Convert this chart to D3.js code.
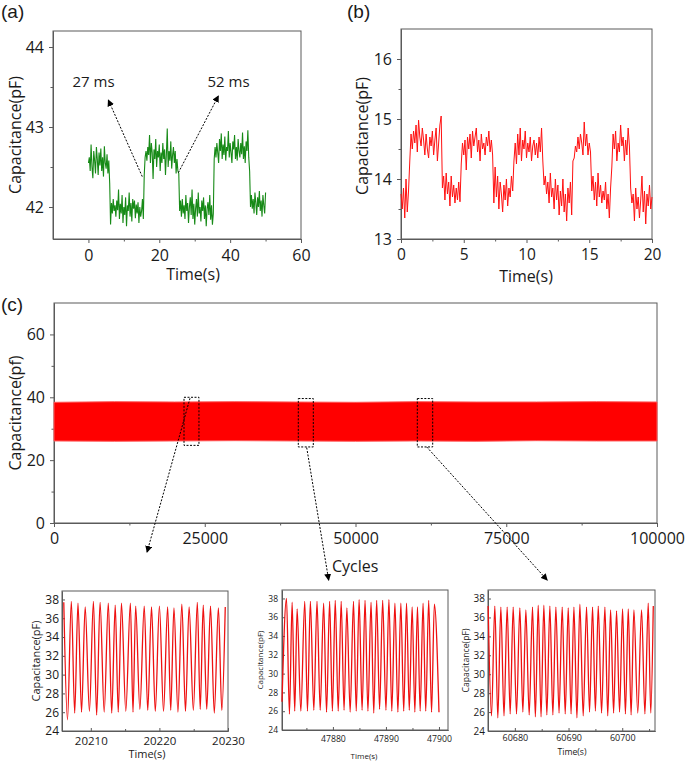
<!DOCTYPE html>
<html><head><meta charset="utf-8">
<script src="https://cdn.jsdelivr.net/npm/d3@7"></script>
<style>
body{margin:0;background:#fff;}
svg{display:block;font-family:"Open Sans",sans-serif;}
</style></head><body>
<svg id="fig" width="685" height="764"></svg>
<script>
// ---------- DATA ----------
// (a) capacitance vs time, sampled every 0.25 s from 0 to 50 s
const aStart = 0, aStep = 0.25;
const aValues = [
 42.55,42.62,42.45,42.78,42.5,42.36,42.7,42.58,42.42,42.75,42.6,42.4,42.68,42.52,42.73,42.45,42.62,42.38,42.76,42.55,42.48,42.66,42.42,42.58,42.3,
 41.78,42.05,41.92,42.1,41.95,42.02,41.88,42.08,41.96,42.22,41.85,42.04,41.92,42.15,41.8,42.0,41.9,42.12,41.76,42.02,41.95,42.18,41.88,42.05,41.82,42.1,41.98,42.08,41.86,42.03,41.92,42.06,41.8,42.0,41.88,41.95,42.1,41.85,
 42.4,42.62,42.7,42.58,42.75,42.65,42.9,42.55,42.8,42.68,42.35,42.72,42.6,42.85,42.5,42.7,42.62,42.78,42.45,42.68,42.55,42.8,42.6,42.72,42.4,42.66,42.98,42.5,42.7,42.58,42.82,42.48,42.65,42.75,42.55,42.7,42.42,42.6,42.45,
 42.42,41.95,42.08,41.88,42.1,41.92,42.02,41.85,42.15,41.95,42.05,41.8,42.0,42.12,41.9,42.22,41.85,42.04,41.78,41.98,42.1,41.88,42.18,41.92,42.0,41.82,42.08,41.95,42.12,41.85,42.02,41.76,41.98,42.06,41.9,42.15,41.84,42.02,41.78,41.92,
 42.6,42.75,42.62,42.8,42.68,42.55,42.85,42.7,42.92,42.6,42.78,42.65,42.88,42.58,42.75,42.7,42.95,42.62,42.8,42.68,42.55,42.82,42.72,42.9,42.6,42.75,42.58,42.85,42.7,42.62,42.8,42.66,42.93,42.6,42.76,42.55,42.82,42.7,42.96,42.62,42.45,
 42.0,42.15,41.98,42.1,41.92,42.18,42.05,41.9,42.12,42.0,42.2,41.95,42.08,41.88,42.15,42.02,41.92,42.18
];
const aXTicks = [0, 20, 40, 60], aXMinor = [10, 30, 50];
const aYTicks = [42, 43, 44], aYMinor = [42.5, 43.5];
const aNotes = ["27 ms", "52 ms"];
const aNoteX = [-4.5, 33.6], aNoteY = [43.5, 43.5];
const aArrowFromX = [15.2, 25.4], aArrowFromY = [42.38, 42.43];
const aArrowToX = [5.6, 36.7], aArrowToY = [43.34, 43.39];

// (b) capacitance vs time, sampled every 0.1 s from 0 to 20 s
const bStart = 0, bStep = 0.1;
const bValues = [
 13.75,13.5,13.85,13.35,14.0,13.45,13.8,
 14.3,14.75,14.5,14.8,14.6,14.9,14.45,14.98,14.7,14.55,14.85,14.65,14.4,14.75,14.5,14.35,14.7,14.55,14.8,14.4,14.65,14.85,14.3,14.6,14.9,15.05,
 13.85,14.05,13.65,14.1,13.75,13.95,13.55,14.05,13.7,13.9,13.6,13.85,13.65,13.95,13.62,
 14.25,14.6,14.4,14.65,14.15,14.7,14.5,14.75,14.35,14.8,14.55,14.7,14.85,14.45,14.65,14.3,14.75,14.5,14.6,14.4,14.7,14.55,14.8,14.45,14.65,14.4,
 13.6,14.2,13.7,14.05,13.5,13.95,13.75,13.45,13.9,13.65,14.0,13.55,13.85,13.7,14.05,13.8,
 14.3,14.6,14.25,14.75,14.4,14.85,14.3,14.65,14.5,14.8,14.35,14.6,14.45,14.7,14.3,14.55,14.65,14.4,14.6,14.35,14.7,14.45,14.85,14.3,
 13.9,14.05,13.75,13.95,13.6,14.1,13.7,13.85,13.5,14.0,13.65,13.9,13.4,13.8,13.55,14.0,13.45,13.75,13.3,13.85,13.6,13.95,13.4,
 14.3,14.35,14.55,14.45,14.7,14.5,14.75,14.6,14.4,14.95,14.55,14.75,14.4,14.6,14.45,
 13.8,14.05,13.65,13.95,13.55,14.1,13.7,13.9,13.6,13.8,13.65,13.95,13.5,13.75,13.35,13.85,
 14.2,14.75,14.5,14.8,14.3,14.6,14.45,14.9,14.55,14.7,14.3,14.65,14.4,14.85,14.55,
 13.85,13.6,13.75,13.3,13.85,13.5,13.7,13.35,13.65,14.05,13.45,13.8,13.25,13.75,13.55,13.9,13.5,13.7
];
const bXTicks = [0, 5, 10, 15, 20], bXMinor = [2.5, 7.5, 12.5, 17.5];
const bYTicks = [13, 14, 15, 16], bYMinor = [13.5, 14.5, 15.5];

// (c) envelope of the oscillation over 100000 cycles
const bandCycles = [0, 10000, 20000, 30000, 40000, 50000, 60000, 70000, 80000, 90000, 100000];
const bandUpper = [38.4, 38.6, 38.5, 38.6, 38.5, 38.4, 38.6, 38.5, 38.5, 38.6, 38.5];
const bandLower = [26.1, 26.0, 26.1, 26.2, 26.1, 26.0, 26.1, 26.0, 26.2, 26.1, 26.1];
const cXTicks = [0, 25000, 50000, 75000, 100000], cXMinor = [12500, 37500, 62500, 87500];
const cYTicks = [0, 20, 40, 60], cYMinor = [10, 30, 50];
const boxStart = [21560, 40514, 60249], boxEnd = [24040, 43002, 62803];
const boxLow = [24.7, 24.2, 24.2], boxHigh = [40.0, 39.6, 39.6];
const cArrowFromX = [22554, 41907, 61808], cArrowFromY = [39.7, 24.0, 24.2];
const cArrowToX = [15423, 45556, 81808], cArrowToY = [-9.3, -18.2, -18.2];

// insets: zoomed oscillations (alternating peaks and troughs)
const in1Times = [20206.06,20206.6,20207.16,20207.65,20208.13,20208.65,20209.18,20209.8,20210.38,20210.85,20211.35,20211.95,20212.55,20213.05,20213.56,20214.0,20214.47,20215.1,20215.77,20216.15,20216.54,20217.15,20217.79,20218.3,20218.85,20219.4,20220.0,20220.6,20221.2,20221.65,20222.12,20222.7,20223.27,20223.8,20224.33,20224.95,20225.53,20225.95,20226.39,20226.9,20227.45,20228.0,20228.6,20229.1,20229.6];
const in1Values = [37.7,25.2,37.8,25.9,37.6,26.0,37.2,26.1,37.8,25.7,37.7,26.0,37.6,25.9,37.4,26.0,37.6,26.1,37.6,26.0,37.3,26.3,37.3,26.2,37.2,26.1,37.3,26.1,37.2,26.2,37.1,26.0,37.5,26.1,37.2,26.2,37.7,26.3,37.4,26.3,37.3,25.9,37.1,26.2,37.2];
const in2Times = [47870.4,47871.25,47871.8,47872.31,47872.8,47873.25,47873.95,47874.69,47875.2,47875.75,47876.4,47877.0,47877.6,47878.25,47878.8,47879.38,47879.9,47880.44,47881.0,47881.56,47882.1,47882.63,47883.25,47883.88,47884.4,47884.94,47885.5,47886.06,47886.6,47887.19,47887.7,47888.25,47888.8,47889.38,47890.0,47890.56,47891.1,47891.69,47892.25,47892.81,47893.35,47893.88,47894.4,47894.94,47895.45,47895.94,47896.45,47897.0,47897.5,47898.06,47898.6,47899.13,47900.0];
const in2Values = [27.0,38.0,25.7,37.6,26.0,36.9,26.0,37.7,26.0,37.7,26.1,37.7,26.1,37.5,25.9,37.7,26.0,37.8,26.0,37.7,26.1,37.0,25.9,37.7,26.0,37.9,26.1,37.8,26.0,37.6,25.8,37.8,26.2,37.8,26.1,37.9,26.0,37.5,25.9,37.5,26.0,37.5,26.1,37.1,25.9,37.1,26.0,37.5,26.0,37.8,25.9,37.4,25.9];
const in3Times = [60675.03,60675.65,60676.27,60676.83,60677.39,60677.98,60678.57,60679.13,60679.69,60680.31,60680.93,60681.49,60682.05,60682.67,60683.29,60683.82,60684.35,60684.88,60685.4,60685.96,60686.52,60687.08,60687.64,60688.23,60688.82,60689.38,60689.94,60690.47,60691.0,60691.56,60692.11,60692.73,60693.35,60693.91,60694.47,60695.0,60695.53,60696.15,60696.77,60697.3,60697.83,60698.39,60698.94,60699.5,60700.06,60700.59,60701.12,60701.65,60702.17,60702.89,60703.6,60704.22,60704.84,60705.31,60705.78];
const in3Values = [37.2,25.6,37.2,25.4,37.1,25.6,37.1,25.8,37.1,25.8,37.0,26.0,36.8,25.7,37.1,25.5,37.3,25.5,37.3,25.7,37.2,25.7,37.1,25.9,37.1,25.8,37.0,25.8,37.1,25.4,37.4,25.6,37.1,26.0,37.1,26.1,37.2,25.9,37.1,25.6,36.8,25.9,36.7,26.0,36.9,25.8,36.9,25.7,36.8,25.9,36.8,25.8,37.5,25.9,37.2];
const insetYTicks = [24, 26, 28, 30, 32, 34, 36, 38];
const in1XTicks = [20210, 20220, 20230], in1XMinor = [20215, 20225];
const in2XTicks = [47880, 47890, 47900], in2XMinor = [47875, 47885, 47895];
const in3XTicks = [60680, 60690, 60700], in3XMinor = [60685, 60695, 60705];

// ---------- DRAWING ----------
const svg = d3.select("#fig");
const frameColor = "#5a5a5a";
const textColor = "#1a1a1a";

const defs = svg.append("defs");
defs.append("marker").attr("id","arr").attr("viewBox","0 0 10 10").attr("refX",9).attr("refY",5)
  .attr("markerWidth",7).attr("markerHeight",7).attr("markerUnits","userSpaceOnUse").attr("orient","auto")
  .append("path").attr("d","M0,0 L10,5 L0,10 Z").attr("fill","#000");

function panel(o){
  const g = svg.append("g");
  const x = o.x, y = o.y;
  const [x0,x1] = x.range(), [y0,y1] = y.range();
  const fmt = o.fmt || d3.format("d");
  const gx = g.append("g").attr("transform",`translate(0,${y0})`)
    .call(d3.axisBottom(x).tickValues(o.xTicks).tickSize(o.tick).tickSizeOuter(0).tickPadding(o.xPad).tickFormat(fmt));
  if (o.xMinor) g.append("g").attr("transform",`translate(0,${y0})`)
    .call(d3.axisBottom(x).tickValues(o.xMinor).tickSize(o.minor).tickSizeOuter(0).tickFormat(""));
  const gy = g.append("g").attr("transform",`translate(${x0},0)`)
    .call(d3.axisLeft(y).tickValues(o.yTicks).tickSize(o.tick).tickSizeOuter(0).tickPadding(o.yPad).tickFormat(o.yFmt || fmt));
  if (o.yMinor) g.append("g").attr("transform",`translate(${x0},0)`)
    .call(d3.axisLeft(y).tickValues(o.yMinor).tickSize(o.minor).tickSizeOuter(0).tickFormat(""));
  g.selectAll(".domain").attr("stroke",frameColor);
  g.selectAll(".tick line").attr("stroke",frameColor);
  [gx,gy].forEach(a=>a.attr("font-family",null).attr("font-size",null));
  gx.selectAll("text").attr("font-size",o.xFont).attr("fill",textColor);
  gy.selectAll("text").attr("font-size",o.yFont||o.xFont).attr("fill",textColor);
  g.append("rect").attr("x",x0).attr("y",y1).attr("width",x1-x0).attr("height",y0-y1)
    .attr("fill","none").attr("stroke",frameColor).attr("stroke-width",1);
  return g;
}
function label(txt, x, yy, size, anchor, rot){
  const t = svg.append("text").text(txt).attr("font-size",size).attr("fill",textColor)
    .attr("text-anchor",anchor||"middle");
  if (rot) t.attr("transform",`translate(${x},${yy}) rotate(-90)`).attr("dy","0.35em");
  else t.attr("x",x).attr("y",yy);
  return t;
}
function dashedArrow(x1,y1,x2,y2){
  svg.append("line").attr("x1",x1).attr("y1",y1).attr("x2",x2).attr("y2",y2)
    .attr("stroke","#000").attr("stroke-width",1).attr("stroke-dasharray","2,1.5").attr("marker-end","url(#arr)");
}

// ---- (a)
const xa = d3.scaleLinear().domain([-10,60]).range([53,301]);
const ya = d3.scaleLinear().domain([41.6,44.2]).range([239,31]);
panel({x:xa,y:ya,xTicks:aXTicks,xMinor:aXMinor,yTicks:aYTicks,yMinor:aYMinor,tick:4,minor:2.5,xPad:7,yPad:5,xFont:16});
svg.append("path").datum(aValues)
  .attr("d", d3.line().x((d,i)=>xa(aStart+i*aStep)).y(d=>ya(d)))
  .attr("fill","none").attr("stroke","#178a17").attr("stroke-width",1.1);
aNotes.forEach((t,i)=>label(t, xa(aNoteX[i]), ya(aNoteY[i]), 15, "start"));
aArrowFromX.forEach((v,i)=>dashedArrow(xa(v),ya(aArrowFromY[i]),xa(aArrowToX[i]),ya(aArrowToY[i])));
label("(a)", 1, 18, 19, "start").attr("font-family","Liberation Sans");
label("Capacitance(pF)", 15, 135, 16, "middle", true);
label("Time(s)", 193, 280, 16);

// ---- (b)
const xb = d3.scaleLinear().domain([0,20]).range([401,652]);
const yb = d3.scaleLinear().domain([13,16.5]).range([239,29]);
panel({x:xb,y:yb,xTicks:bXTicks,xMinor:bXMinor,yTicks:bYTicks,yMinor:bYMinor,tick:4,minor:2.5,xPad:6,yPad:5,xFont:15.5,yFont:16});
svg.append("path").datum(bValues)
  .attr("d", d3.line().x((d,i)=>xb(bStart+i*bStep)).y(d=>yb(d)))
  .attr("fill","none").attr("stroke","#ff1010").attr("stroke-width",1);
label("(b)", 347, 18, 19, "start").attr("font-family","Liberation Sans");
label("Capacitance(pF)", 362, 136, 16, "middle", true);
label("Time(s)", 526, 281.5, 16);

// ---- (c)
const xc = d3.scaleLinear().domain([0,100000]).range([54,657]);
const yc = d3.scaleLinear().domain([0,70]).range([523,303]);
panel({x:xc,y:yc,xTicks:cXTicks,xMinor:cXMinor,yTicks:cYTicks,yMinor:cYMinor,tick:4,minor:2.5,xPad:6,yPad:5,xFont:16});
svg.append("path").datum(bandCycles)
  .attr("d", d3.area().x(d=>xc(d)).y0((d,i)=>yc(bandLower[i])).y1((d,i)=>yc(bandUpper[i])))
  .attr("fill","#ff0000").attr("stroke","#ff5a5a").attr("stroke-width",1);
boxStart.forEach((v,i)=>{
  svg.append("rect").attr("x",xc(v)).attr("y",yc(boxHigh[i]))
    .attr("width",xc(boxEnd[i])-xc(v)).attr("height",yc(boxLow[i])-yc(boxHigh[i]))
    .attr("fill","none").attr("stroke","#000").attr("stroke-width",1).attr("stroke-dasharray","2,1.5");
});
cArrowFromX.forEach((v,i)=>dashedArrow(xc(v),yc(cArrowFromY[i]),xc(cArrowToX[i]),yc(cArrowToY[i])));
label("(c)", 1, 311, 19, "start").attr("font-family","Liberation Sans");
label("Capacitance(pf)", 15, 413, 16, "middle", true);
label("Cycles", 332, 572, 16, "start");

// ---- insets
function inset(o){
  const x = d3.scaleLinear().domain(o.xd).range(o.xr);
  const y = d3.scaleLinear().domain([24,38.9]).range(o.yr);
  panel({x:x,y:y,xTicks:o.xTicks,xMinor:o.xMinor,yTicks:insetYTicks,tick:-3,minor:-2,xPad:o.xPad,yPad:o.yPad,xFont:o.font,yFont:o.yFont});
  svg.append("path").datum(o.t)
    .attr("d", d3.line().x(d=>x(d)).y((d,i)=>y(o.v[i])).curve(d3.curveMonotoneX))
    .attr("fill","none").attr("stroke","#ee1111").attr("stroke-width",1.3);
  label("Capacitance(pF)", o.ytx, (o.yr[0]+o.yr[1])/2, o.titleFont, "middle", true);
  label("Time(s)", o.ttx, o.tty, o.titleFont);
}
inset({xd:[20205.8,20230],xr:[62,228],yr:[731,591],xTicks:in1XTicks,xMinor:in1XMinor,t:in1Times,v:in1Values,
  xPad:6,yPad:3,font:11.5,yFont:12,titleFont:11,ytx:36,ttx:147,tty:758});
inset({xd:[47870.4,47901.7],xr:[282,448],yr:[730,590],xTicks:in2XTicks,xMinor:in2XMinor,t:in2Times,v:in2Values,
  xPad:6,yPad:4,font:8.7,yFont:8.5,titleFont:8,ytx:260,ttx:364,tty:759});
inset({xd:[60675,60706.1],xr:[488,655],yr:[731,590],xTicks:in3XTicks,xMinor:in3XMinor,t:in3Times,v:in3Values,
  xPad:4,yPad:3,font:9,yFont:10,titleFont:8.7,ytx:466,ttx:572,tty:755});
</script>
</body></html>
